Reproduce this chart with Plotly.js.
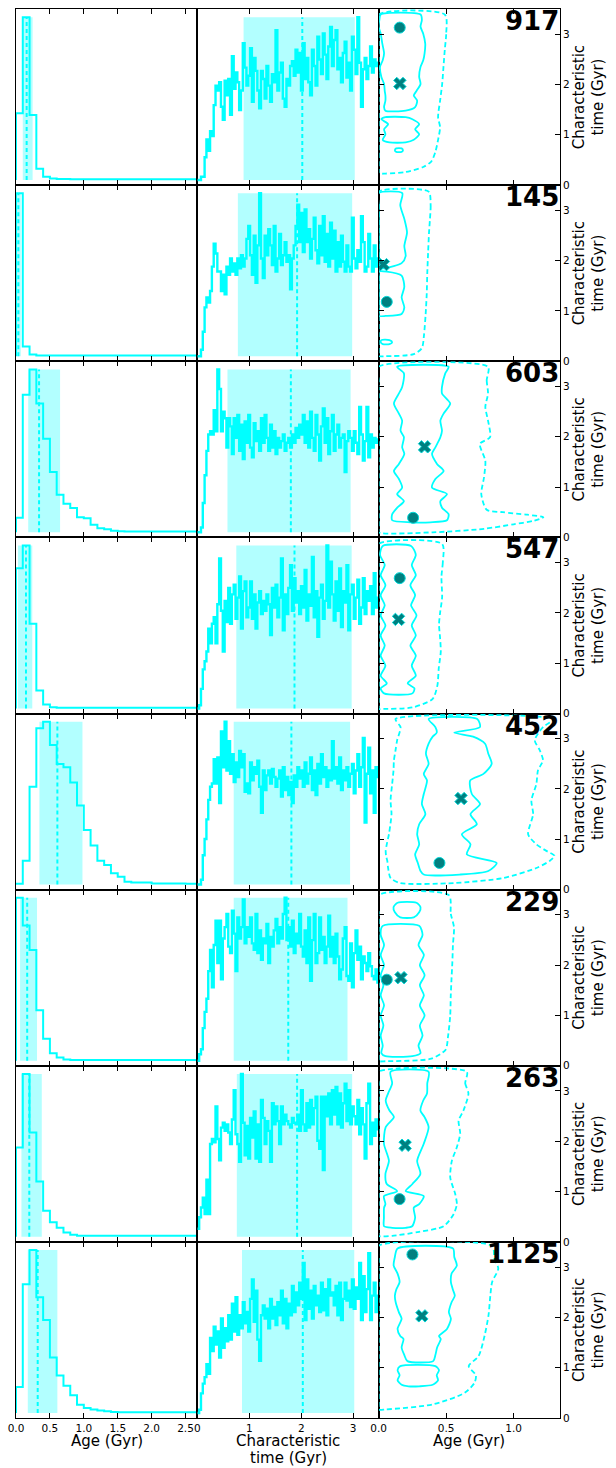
<!DOCTYPE html>
<html><head><meta charset="utf-8">
<script src="https://cdn.plot.ly/plotly-3.0.1.min.js"></script>
<style>html,body{margin:0;padding:0;background:#fff}#chart{width:616px;height:1468px}</style>
</head><body><div id="chart"></div>
<script>
// ---------------- DATA ----------------
const rowLabels = ["917","145","603","547","452","229","263","1125"];
const colTitles = [["Age (Gyr)"], ["Characteristic", "time (Gyr)"], ["Age (Gyr)"]];
const rightTitle = "Characteristic<br>time (Gyr)";
const ageTicks = [0,0.5,1,1.5,2,2.5];
const ageTickText = ["0.0","0.5","1.0","1.5","2.0","2.5"];
const tauTicks = [0,1,2,3];
const tauTickText = ["0","1","2","3"];
const ageTicks3 = [0,0.5,1.0];
const ageTickText3 = ["0.0","0.5","1.0"];

// age histograms (0.1 Gyr bins, % of peak)
const ageBinWidth = 0.1;
const hist917  = [41,100,40,7,2,1,0.6,0.6,0.5,0.5,0.5,0.5,0.5,0.5,0.5,0.5,0.5,0.5,0.5,0.5,0.5,0.5,0.5,0.5,0.5,0.5,0.5];
const hist145  = [100,6,1,0.5,0.4,0.4,0.4,0.4,0.4,0.4,0.4,0.4,0.4,0.4,0.4,0.4,0.4,0.4,0.4,0.4,0.4,0.4,0.4,0.4,0.4,0.4,0.4];
const hist603  = [9,84.5,100,79,57.5,37,23,17.6,15,9.3,8.7,4.6,2.5,1.9,1,0.6,0.5,0.5,0.5,0.5,0.5,0.5,0.5,0.5,0.5,0.5,0.5];
const hist547  = [86,100,52,11,2.5,0.8,0.4,0.4,0.4,0.4,0.4,0.4,0.4,0.4,0.4,0.4,0.4,0.4,0.4,0.4,0.4,0.4,0.4,0.4,0.4,0.4,0.4];
const hist452  = [0.5,14.6,60,96,100,85.6,74,72,62.7,48.5,33.5,24,14.6,12,7,4.8,1.7,1.2,1.2,1.2,0.6,0.6,0.6,0.6,0.6,0.5,0.5];
const hist229  = [100,83,68,31,13.5,4.6,1.9,0.8,0.4,0.4,0.4,0.4,0.4,0.4,0.4,0.4,0.4,0.4,0.4,0.4,0.4,0.4,0.4,0.4,0.4,0.4,0.4];
const hist263  = [54.8,100,64,34,16,9,5.6,2.7,1.2,0.6,0.6,0.6,0.6,0.6,0.6,0.6,0.6,0.6,0.6,0.6,0.6,0.6,0.6,0.6,0.6,0.6,0.6];
const hist1125 = [16,79,100,71,57,34,23,16.7,10.8,5,3.1,2.1,1.5,1,0.6,0.5,0.5,0.5,0.5,0.5,0.5,0.5,0.5,0.5,0.5,0.5,0.5];

// 68% interval and median of age, characteristic time
const ageLo  = [0.10, 0.005, 0.18, 0.03, 0.345, 0.06, 0.08, 0.174];
const ageHi  = [0.245, 0.07, 0.65, 0.24, 0.98, 0.31, 0.38, 0.61];
const ageMed = [0.157, 0.035, 0.34, 0.147, 0.61, 0.165, 0.196, 0.32];
const tauLo  = [0.89, 0.78, 0.58, 0.75, 0.70, 0.70, 0.76, 0.86];
const tauHi  = [3.03, 2.98, 2.95, 2.97, 2.94, 2.89, 2.98, 3.02];
const tauMed = [2.02, 1.92, 1.80, 1.87, 1.81, 1.75, 1.92, 2.03];

// characteristic-time posteriors (0.035 Gyr bins, % of peak)
const tauBinWidth = 0.035;
const tau917 = [0,0,2,2,14,25,18,30,27,46,58,55,60,45,37,61,52,62,40,76,56,66,60,43,55,84,69,58,64,81,48,75,67,55,44,67,62,50,70,58,48,65,60,92,55,66,72,50,45,62,58,70,73,64,80,66,78,55,84,62,75,60,52,80,70,58,88,74,65,90,77,62,82,94,70,86,92,68,75,60,78,85,63,72,55,88,80,65,100,72,45,68,75,62,70,82,66,74,70,72];
const tau145 = [0,0,4,15,30,36,33,40,55,69,63,52,52,40,50,38,55,50,60,52,57,50,60,54,62,55,60,72,80,62,50,74,45,68,100,60,48,74,62,78,68,56,80,52,60,75,56,62,70,58,62,41,60,68,80,93,70,88,64,90,70,78,60,72,85,65,57,80,62,86,58,75,55,82,60,77,52,70,55,74,58,52,68,55,52,85,60,54,65,58,86,70,52,55,75,60,52,68,55,60];
const tau603 = [0,0,3,18,35,50,60,62,60,75,62,100,88,62,74,70,52,70,65,48,70,58,72,50,66,45,68,55,72,52,46,67,56,62,50,70,55,72,58,50,66,52,62,48,58,52,56,60,50,55,58,52,60,55,64,58,66,60,72,55,68,52,74,58,50,72,60,44,65,76,55,70,48,62,72,50,60,66,52,58,60,37,56,62,58,50,62,55,48,77,60,44,56,77,46,60,52,58,55,57];
const tau547 = [0,2,12,24,29,35,49,40,52,56,40,64,92,60,35,66,53,74,52,70,76,55,68,81,49,72,78,56,62,78,55,70,49,65,72,58,66,60,70,64,45,74,62,76,56,68,92,48,70,58,74,88,60,80,65,72,58,75,62,85,54,70,63,93,56,72,44,68,76,55,66,100,62,90,70,54,78,60,86,50,72,65,88,48,70,76,55,68,79,52,62,80,58,72,66,75,58,83,62,68];
const tau452 = [0,0,3,18,28,40,52,60,62,77,62,78,50,94,72,100,70,88,68,80,63,75,66,82,72,80,57,62,56,75,64,72,68,76,60,44,70,58,67,70,62,71,66,60,65,70,54,72,58,66,55,63,50,67,60,72,65,70,60,75,62,68,78,58,70,55,74,62,80,66,72,60,70,64,88,65,72,62,78,58,70,64,72,60,68,74,56,70,80,60,72,90,38,68,84,56,70,44,72,66];
const tau229 = [0,4,7,20,30,38,55,68,45,71,86,60,86,50,75,82,90,70,66,92,78,55,88,75,82,99,72,82,76,88,72,68,90,66,80,62,75,72,84,60,76,70,80,87,72,82,75,90,100,74,82,70,86,66,78,72,90,70,64,80,60,88,49,74,90,60,66,88,68,76,60,70,89,64,76,60,78,64,50,56,75,82,52,49,72,45,66,80,62,70,50,64,60,55,66,58,52,50,56,48];
const tau263 = [5,12,18,24,14,35,14,57,60,58,80,60,47,67,70,65,69,64,57,72,90,63,57,46,100,70,50,68,48,73,61,77,48,69,46,84,73,57,71,65,46,82,69,80,71,57,80,69,75,71,69,67,73,70,69,75,65,90,69,65,82,67,84,69,79,86,59,54,86,41,86,74,88,69,90,75,92,69,88,67,82,94,71,90,69,80,74,69,84,63,79,69,48,82,94,57,70,62,72,66];
const tau1125 = [0,2,12,18,22,30,24,46,38,53,42,50,34,58,40,52,44,60,45,67,50,71,48,60,52,68,55,62,50,70,82,56,75,45,32,60,66,58,64,52,70,58,65,54,68,60,75,55,70,52,67,60,78,62,74,66,80,70,92,57,82,64,75,58,78,66,72,62,80,63,76,60,82,72,74,66,78,60,80,57,70,80,69,75,65,82,64,77,70,92,57,84,62,76,98,57,72,80,62,72];

// joint (age, tau) posterior contours: rows of [tau, age_left, age_right]
const outer917 = [[3.39,0,0.49],[3.0,0,0.50],[2.7,0,0.49],[2.35,0,0.48],[2.0,0,0.47],[1.68,0,0.455],[1.35,0,0.44],[1.15,0,0.455],[0.9,0,0.44],[0.66,0,0.42],[0.47,0,0.39],[0.36,0,0.33],[0.26,0,0.2],[0.23,0,0.05]];
const inner917 = [
 [[3.39,0.015,0.31],[3.28,0.005,0.32],[3.15,0.0,0.31],[3.01,0.015,0.33],[2.81,0.027,0.345],[2.62,0.04,0.34],[2.48,0.03,0.33],[2.35,0.01,0.31],[2.15,0.02,0.30],[2.01,0.04,0.31],[1.87,0.045,0.28],[1.78,0.05,0.26],[1.68,0.05,0.285],[1.55,0.04,0.27],[1.48,0.05,0.2]],
 [[1.35,0.05,0.2],[1.31,0.02,0.25],[1.21,0.07,0.3],[1.11,0.04,0.27],[1.01,0.05,0.3],[0.9,0.03,0.26],[0.85,0.08,0.2]],
 [[0.73,0.13,0.17],[0.69,0.12,0.18],[0.66,0.13,0.17]]];
const outer145 = [[3.37,0,0.37],[3.1,0,0.385],[2.83,0,0.38],[2.56,0,0.373],[2.15,0,0.366],[1.75,0,0.36],[1.34,0,0.356],[0.94,0,0.348],[0.53,0,0.336],[0.26,0,0.32],[0.14,0,0.26],[0.1,0,0.05]];
const inner145 = [
 [[3.34,0,0.175],[3.1,0,0.16],[2.83,0,0.19],[2.56,0,0.21],[2.29,0,0.19],[2.09,0,0.2],[1.95,0,0.17],[1.85,0,0.05]],
 [[1.78,0,0.06],[1.7,0,0.17],[1.48,0,0.19],[1.27,0,0.17],[1.07,0,0.19],[0.94,0,0.17],[0.9,0,0.05]],
 [[0.42,0.02,0.08],[0.38,0.015,0.1],[0.34,0.03,0.08]]];
const outer603 = [[3.39,0,0.81],[3.12,0,0.80],[2.86,0,0.81],[2.59,0,0.79],[2.32,0,0.81],[1.99,0,0.825],[1.86,0,0.75],[1.52,0,0.79],[1.19,0,0.78],[0.86,0,0.76],[0.55,0,0.80],[0.50,0,0.92],[0.45,0,1.1],[0.40,0,1.22],[0.33,0,1.15],[0.26,0,1.0],[0.17,0,0.78],[0.1,0,0.4]];
const inner603 = [
 [[3.39,0.137,0.518],[3.26,0.187,0.493],[2.99,0.174,0.469],[2.86,0.15,0.469],[2.66,0.113,0.53],[2.46,0.15,0.481],[2.32,0.174,0.457],[2.12,0.162,0.469],[1.99,0.187,0.457],[1.79,0.174,0.42],[1.66,0.19,0.395],[1.46,0.15,0.432],[1.32,0.113,0.481],[1.16,0.15,0.42],[0.99,0.174,0.395],[0.86,0.137,0.506],[0.72,0.187,0.457],[0.59,0.137,0.469],[0.46,0.10,0.518],[0.34,0.10,0.506],[0.30,0.236,0.383]]];
const outer547 = [[3.37,0,0.47],[3.0,0,0.475],[2.72,0,0.465],[2.31,0,0.47],[2.0,0,0.455],[1.77,0,0.447],[1.5,0,0.455],[1.23,0,0.46],[0.9,0,0.445],[0.56,0,0.435],[0.29,0,0.40],[0.12,0,0.25],[0.09,0,0.02]];
const inner547 = [
 [[3.33,0.03,0.24],[3.15,0.01,0.275],[2.95,0.045,0.245],[2.75,0.015,0.275],[2.55,0.05,0.235],[2.35,0.015,0.27],[2.15,0.045,0.24],[1.95,0.015,0.28],[1.75,0.05,0.245],[1.55,0.015,0.275],[1.35,0.045,0.235],[1.15,0.015,0.275],[0.95,0.05,0.245],[0.75,0.015,0.275],[0.6,0.06,0.215],[0.5,0.015,0.265],[0.4,0.04,0.25]]];
const outer452 = [[3.39,0.125,1.30],[3.23,0.162,1.217],[2.97,0.137,1.156],[2.77,0.125,1.193],[2.57,0.113,1.217],[2.37,0.11,1.18],[2.10,0.10,1.168],[1.77,0.088,1.131],[1.50,0.095,1.144],[1.10,0.076,1.107],[0.90,0.06,1.168],[0.77,0.052,1.242],[0.67,0.055,1.303],[0.57,0.064,1.266],[0.43,0.07,1.168],[0.23,0.088,0.923],[0.13,0.16,0.555]];
const inner452 = [
 [[3.39,0.37,0.73],[3.23,0.42,0.75],[3.12,0.43,0.56],[3.04,0.40,0.70],[2.90,0.37,0.788],[2.70,0.35,0.812],[2.50,0.37,0.837],[2.30,0.334,0.776],[2.17,0.358,0.678],[1.90,0.334,0.69],[1.70,0.32,0.751],[1.50,0.346,0.68],[1.30,0.30,0.727],[1.10,0.285,0.616],[0.90,0.30,0.68],[0.70,0.27,0.653],[0.53,0.29,0.874],[0.37,0.31,0.812],[0.30,0.334,0.6]]];
const outer229 = [[3.39,0,0.52],[3.02,0,0.534],[2.75,0,0.558],[2.4,0,0.55],[2.07,0,0.546],[1.75,0,0.54],[1.40,0,0.534],[1.0,0,0.53],[0.59,0,0.514],[0.32,0,0.496],[0.14,0,0.39],[0.09,0,0.05]];
const inner229 = [
 [[3.24,0.14,0.28],[3.15,0.11,0.31],[3.05,0.12,0.3],[2.95,0.16,0.26]],
 [[2.78,0.03,0.3],[2.6,0.015,0.325],[2.4,0.04,0.295],[2.2,0.015,0.335],[2.0,0.04,0.305],[1.8,0.015,0.34],[1.6,0.035,0.305],[1.4,0.015,0.335],[1.2,0.04,0.305],[1.0,0.015,0.34],[0.8,0.035,0.305],[0.6,0.015,0.325],[0.4,0.03,0.295],[0.25,0.02,0.31],[0.19,0.05,0.25]]];
const outer263 = [[3.38,0,0.653],[3.15,0,0.641],[2.95,0,0.665],[2.61,0,0.628],[2.41,0,0.592],[2.15,0,0.604],[1.88,0,0.579],[1.61,0,0.542],[1.28,0,0.530],[0.95,0,0.567],[0.75,0,0.579],[0.55,0,0.555],[0.31,0,0.481],[0.2,0,0.3],[0.12,0,0.1]];
const inner263 = [
 [[3.38,0.088,0.37],[3.15,0.10,0.36],[2.95,0.07,0.358],[2.81,0.052,0.33],[2.61,0.08,0.309],[2.48,0.113,0.34],[2.28,0.052,0.37],[1.95,0.039,0.334],[1.61,0.076,0.285],[1.35,0.05,0.309],[1.15,0.06,0.25],[1.01,0.137,0.2],[0.91,0.039,0.334],[0.75,0.05,0.30],[0.68,0.04,0.26],[0.48,0.039,0.27],[0.31,0.04,0.248],[0.28,0.1,0.2]]];
const outer1125 = [[3.42,0,0.84],[3.17,0,0.857],[2.97,0,0.886],[2.7,0,0.84],[2.43,0,0.827],[2.03,0,0.813],[1.63,0,0.784],[1.23,0,0.74],[1.03,0,0.667],[0.85,0,0.72],[0.70,0,0.71],[0.50,0,0.637],[0.27,0,0.40],[0.17,0,0.05]];
const inner1125 = [
 [[3.37,0.14,0.55],[3.2,0.12,0.56],[3.03,0.111,0.579],[2.87,0.14,0.54],[2.70,0.155,0.535],[2.55,0.13,0.55],[2.43,0.12,0.564],[2.3,0.126,0.54],[2.1,0.15,0.52],[1.97,0.17,0.535],[1.77,0.14,0.506],[1.63,0.16,0.447],[1.57,0.184,0.46],[1.40,0.17,0.433],[1.25,0.19,0.42],[1.13,0.213,0.404]],
 [[1.03,0.16,0.42],[0.95,0.14,0.447],[0.85,0.155,0.43],[0.75,0.14,0.44],[0.66,0.17,0.40],[0.63,0.22,0.3]]];

// best-fit (circle) positions
const bestAge = [0.156, 0.06, 0.255, 0.156, 0.45, 0.06, 0.155, 0.25];
const bestTau = [3.13, 1.18, 0.39, 2.69, 0.53, 1.71, 0.85, 3.25];

const hists = [hist917,hist145,hist603,hist547,hist452,hist229,hist263,hist1125];
const taus = [tau917,tau145,tau603,tau547,tau452,tau229,tau263,tau1125];
const outers = [outer917,outer145,outer603,outer547,outer452,outer229,outer263,outer1125];
const inners = [inner917,inner145,inner603,inner547,inner452,inner229,inner263,inner1125];

// ---------------- STYLE / BUILD ----------------
const CYAN = '#00ffff', SHADE = '#b2ffff', TEAL = '#008080';
const FONT = 'DejaVu Sans';
const NR = 8;
const traces = [], shapes = [], annotations = [];
const layout = {
  width: 616, height: 1468,
  margin: {l: 16, r: 56, t: 9, b: 50},
  showlegend: false, paper_bgcolor: '#fff', plot_bgcolor: '#fff',
  font: {family: FONT, size: 10, color: '#000'},
  shapes: shapes, annotations: annotations
};
const sfx = k => (k === 1 ? '' : String(k));
function baseAxis(extra) {
  return Object.assign({
    showline: true, linecolor: '#000', linewidth: 1, mirror: 'allticks',
    showgrid: false, zeroline: false, ticks: 'inside', ticklen: 5,
    tickcolor: '#000', tickwidth: 1, fixedrange: true, automargin: false,
    tickfont: {family: FONT, size: 10.5, color: '#000'}
  }, extra);
}
function polygon(prof) {
  const xs = [], ys = [];
  prof.forEach(p => { xs.push(p[2]); ys.push(p[0]); });
  for (let i = prof.length - 1; i >= 0; i--) { xs.push(prof[i][1]); ys.push(prof[i][0]); }
  xs.push(prof[0][2]); ys.push(prof[0][0]);
  return {x: xs, y: ys};
}

for (let r = 0; r < NR; r++) {
  const yd = [1 - (r + 1) / NR, 1 - r / NR];
  const bottom = (r === NR - 1);
  for (let c = 0; c < 3; c++) {
    const k = r * 3 + c + 1, s = sfx(k);
    const xa = 'x' + s, ya = 'y' + s;
    if (c === 0) {
      layout['xaxis' + s] = baseAxis({domain: [0, 1/3], anchor: ya, range: [0, 2.674],
        tickvals: ageTicks, ticktext: ageTickText, showticklabels: bottom});
      layout['yaxis' + s] = baseAxis({domain: yd, anchor: xa, range: [-3.1, 105], ticks: '', showticklabels: false, mirror: true});
      const h = hists[r];
      const xs = [0], ys = [0];
      h.forEach((v, i) => { xs.push(i * ageBinWidth); ys.push(v); });
      xs.push(h.length * ageBinWidth); ys.push(h[h.length - 1]);
      traces.push({type: 'scatter', mode: 'lines', x: xs, y: ys, xaxis: xa, yaxis: ya,
        line: {shape: 'hv', color: CYAN, width: 2}, hoverinfo: 'skip'});
      shapes.push({type: 'rect', xref: xa, yref: ya, x0: ageLo[r], x1: ageHi[r], y0: 0, y1: 100,
        fillcolor: SHADE, line: {width: 0}, layer: 'below'});
      shapes.push({type: 'line', xref: xa, yref: ya, x0: ageMed[r], x1: ageMed[r], y0: 0, y1: 100,
        line: {color: CYAN, width: 2, dash: '4px,3px'}});
    } else if (c === 1) {
      layout['xaxis' + s] = baseAxis({domain: [1/3, 2/3], anchor: ya, range: [0, 3.49],
        tickvals: tauTicks, ticktext: tauTickText, showticklabels: bottom});
      layout['yaxis' + s] = baseAxis({domain: yd, anchor: xa, range: [-3.1, 105], ticks: '', showticklabels: false, mirror: true});
      const t = taus[r];
      const xs = [], ys = [];
      t.forEach((v, i) => { xs.push(i * tauBinWidth); ys.push(v); });
      xs.push(t.length * tauBinWidth); ys.push(t[t.length - 1]);
      traces.push({type: 'scatter', mode: 'lines', x: xs, y: ys, xaxis: xa, yaxis: ya,
        line: {shape: 'hv', color: CYAN, width: 2.4}, hoverinfo: 'skip'});
      shapes.push({type: 'rect', xref: xa, yref: ya, x0: tauLo[r], x1: tauHi[r], y0: 0, y1: 100,
        fillcolor: SHADE, line: {width: 0}, layer: 'below'});
      shapes.push({type: 'line', xref: xa, yref: ya, x0: tauMed[r], x1: tauMed[r], y0: 0, y1: 100,
        line: {color: CYAN, width: 2, dash: '4px,3px'}});
    } else {
      layout['xaxis' + s] = baseAxis({domain: [2/3, 1], anchor: ya, range: [0, 1.343],
        tickvals: ageTicks3, ticktext: ageTickText3, showticklabels: bottom});
      layout['yaxis' + s] = baseAxis({domain: yd, anchor: xa, range: [0, 3.5], side: 'right',
        tickvals: tauTicks, ticktext: tauTickText, showticklabels: true,
        title: {text: rightTitle, font: {family: FONT, size: 15}, standoff: 3}});
      const op = polygon(outers[r]);
      traces.push({type: 'scatter', mode: 'lines', x: op.x, y: op.y, xaxis: xa, yaxis: ya,
        line: {shape: 'spline', smoothing: 0.7, color: CYAN, width: 1.8, dash: '5px,3px'}, hoverinfo: 'skip'});
      inners[r].forEach(prof => {
        const ip = polygon(prof);
        traces.push({type: 'scatter', mode: 'lines', x: ip.x, y: ip.y, xaxis: xa, yaxis: ya,
          line: {shape: 'spline', smoothing: 0.7, color: CYAN, width: 1.8}, hoverinfo: 'skip'});
      });
      traces.push({type: 'scatter', mode: 'markers', x: [bestAge[r]], y: [bestTau[r]], xaxis: xa, yaxis: ya,
        marker: {symbol: 'circle', size: 11, color: TEAL, line: {color: '#00d8d8', width: 1}}, hoverinfo: 'skip'});
      traces.push({type: 'scatter', mode: 'markers', x: [ageMed[r]], y: [tauMed[r]], xaxis: xa, yaxis: ya,
        marker: {symbol: 'x', size: 11, color: TEAL, line: {color: '#00d8d8', width: 1}}, hoverinfo: 'skip'});
      annotations.push({xref: xa + ' domain', yref: ya + ' domain', x: 1, y: 1, xanchor: 'right', yanchor: 'top',
        yshift: 5, xshift: 1, showarrow: false, text: '<b>' + rowLabels[r] + '</b>',
        font: {family: FONT, size: 26, color: '#000'}});
    }
  }
}
// bottom-row axis titles, one annotation per line, under each column
colTitles.forEach((lines, c) => {
  lines.forEach((t, j) => {
    annotations.push({xref: 'paper', yref: 'paper', x: (c + 0.5) / 3, y: 0, xanchor: 'center', yanchor: 'middle',
      yshift: -23 - 17 * j, showarrow: false, text: t, font: {family: FONT, size: 15, color: '#000'}});
  });
});
Plotly.newPlot('chart', traces, layout, {staticPlot: true, displayModeBar: false});
</script>
</body></html>
